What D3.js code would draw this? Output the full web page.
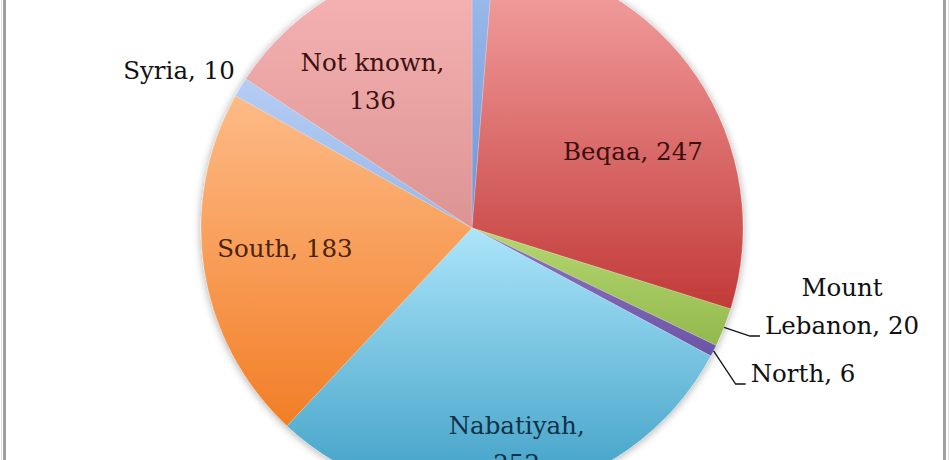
<!DOCTYPE html>
<html>
<head>
<meta charset="utf-8">
<script src="https://cdn.jsdelivr.net/npm/d3@7/dist/d3.min.js"></script>
<style>
  html, body { margin: 0; padding: 0; background: #fff; }
  svg { display: block; }
  text { font-family: "DejaVu Serif", serif; }
</style>
</head>
<body>
<svg id="chart" width="950" height="460"></svg>
<script>
// ---- data ----
const categories = ["Beirut", "Beqaa", "Mount Lebanon", "North", "Nabatiyah", "South", "Syria", "Not known"];
const values     = [11, 247, 20, 6, 252, 183, 10, 136];
// Beirut's label lies outside the visible crop in the reference, so it is not drawn
const labelLines = [[], ["Beqaa, 247"], ["Mount", "Lebanon, 20"], ["North, 6"],
                    ["Nabatiyah,", "252"], ["South, 183"], ["Syria, 10"], ["Not known,", "136"]];

// ---- styles / layout ----
const W = 950, H = 460;
const cx = 472, cy = 228, R = 271;
const gradStops = [
  ["#a0bfec", "#6d93d6"],   // Beirut
  ["#f6a6a6", "#c23a38"],   // Beqaa
  ["#b5d771", "#92b94c"],   // Mount Lebanon
  ["#8c72c2", "#6c55a6"],   // North
  ["#ace5fa", "#3c9ec4"],   // Nabatiyah
  ["#fdbb87", "#f27e26"],   // South
  ["#b4cdf3", "#98b7ea"],   // Syria
  ["#f8b6b6", "#dd9393"]    // Not known
];
const textColors = ["#111", "#3d1010", "#111", "#111", "#12304a", "#4a2208", "#111", "#3d1010"];
const labelCfg = [
  {r: 1.2, dx: 0, dy: 0},
  {r: 0.65, dx: 15, dy: 22},
  {r: 0.65, dx: 0, dy: 0, out: true, tx: 842, ty: 306},
  {r: 0.65, dx: 0, dy: 0, out: true, tx: 803, ty: 373},
  {r: 0.65, dx: 16, dy: 42},
  {r: 0.65, dx: -13, dy: -7},
  {r: 0.65, dx: 0, dy: 0, out: true, tx: 179, ty: 70},
  {r: 0.65, dx: -16, dy: 8}
];
const fontSize = 24.5, lineGap = 38;

const svg = d3.select("#chart");
const defs = svg.append("defs");

// soft shadow
const f = defs.append("filter").attr("id", "shadow").attr("x", "-20%").attr("y", "-20%").attr("width", "140%").attr("height", "140%");
f.append("feGaussianBlur").attr("in", "SourceAlpha").attr("stdDeviation", 4).attr("result", "b");
f.append("feOffset").attr("in", "b").attr("dx", 0).attr("dy", 1).attr("result", "o");
f.append("feComponentTransfer").attr("in", "o").attr("result", "s")
  .append("feFuncA").attr("type", "linear").attr("slope", 0.35);
const fm = f.append("feMerge");
fm.append("feMergeNode").attr("in", "s");
fm.append("feMergeNode").attr("in", "SourceGraphic");

gradStops.forEach((c, i) => {
  const g = defs.append("linearGradient").attr("id", "g" + i)
    .attr("x1", 0).attr("y1", 0).attr("x2", 0).attr("y2", 1);
  g.append("stop").attr("offset", "0%").attr("stop-color", c[0]);
  g.append("stop").attr("offset", "100%").attr("stop-color", c[1]);
});

// frame
svg.append("rect").attr("x", 0).attr("y", -10).attr("width", W).attr("height", H + 20).attr("fill", "#fff");
svg.append("line").attr("x1", 4.5).attr("x2", 4.5).attr("y1", 0).attr("y2", H).attr("stroke", "#a0a0a0").attr("stroke-width", 3);
svg.append("line").attr("x1", 944.5).attr("x2", 944.5).attr("y1", 0).attr("y2", H).attr("stroke", "#a0a0a0").attr("stroke-width", 3);
svg.append("line").attr("x1", 948.5).attr("x2", 948.5).attr("y1", 0).attr("y2", H).attr("stroke", "#e0e0e0").attr("stroke-width", 1);
svg.append("line").attr("x1", 1.5).attr("x2", 1.5).attr("y1", 0).attr("y2", H).attr("stroke", "#e0e0e0").attr("stroke-width", 1);

const data = categories.map((c, i) => ({cat: c, value: values[i], i}));
const pie = d3.pie().value(d => d.value).sort(null).startAngle(0).endAngle(2 * Math.PI);
const arcs = pie(data);
const arc = d3.arc().innerRadius(0).outerRadius(R);

const g = svg.append("g").attr("transform", `translate(${cx},${cy})`);
const slices = g.append("g").attr("filter", "url(#shadow)");
slices.selectAll("path").data(arcs).join("path")
  .attr("d", arc)
  .attr("fill", d => `url(#g${d.data.i})`)
  .attr("stroke", "rgba(255,255,255,0.35)")
  .attr("stroke-width", 0.6);

// labels
arcs.forEach(a => {
  const i = a.data.i, cfg = labelCfg[i];
  const lines = labelLines[i];
  if (!lines.length) return;
  const la = d3.arc().innerRadius(R * cfg.r).outerRadius(R * cfg.r);
  let [x, y] = la.centroid(a);
  x += cx + cfg.dx; y += cy + cfg.dy;
  if (cfg.out) { x = cfg.tx; y = cfg.ty; }
  const t = svg.append("text")
    .attr("text-anchor", "middle")
    .attr("font-size", fontSize)
    .attr("fill", textColors[i]);
  lines.forEach((ln, k) => {
    t.append("tspan").attr("x", x)
      .attr("y", y + (k - (lines.length - 1) / 2) * lineGap)
      .attr("dy", "0.36em")
      .text(ln);
  });
});

// leader lines for Mount Lebanon & North
[2, 3].forEach(i => {
  const a = arcs[i];
  const ea = d3.arc().innerRadius(R).outerRadius(R);
  const [sx, sy] = ea.centroid(a);
  const x0 = sx + cx, y0 = sy + cy;
  const cfg = labelCfg[i];
  const lines = labelLines[i];
  const lastLine = lines[lines.length - 1];
  const lastY = cfg.ty + ((lines.length - 1) / 2) * lineGap;
  const tmp = svg.append("text").attr("font-size", fontSize).text(lastLine);
  const w = tmp.node().getComputedTextLength();
  tmp.remove();
  const textLeft = cfg.tx - w / 2;
  const ly = lastY + 11;
  svg.append("polyline")
    .attr("points", [[x0, y0], [textLeft - 15, ly], [textLeft - 5, ly]].map(p => p.join(",")).join(" "))
    .attr("fill", "none").attr("stroke", "#111").attr("stroke-width", 1.3);
});
</script>
</body>
</html>
